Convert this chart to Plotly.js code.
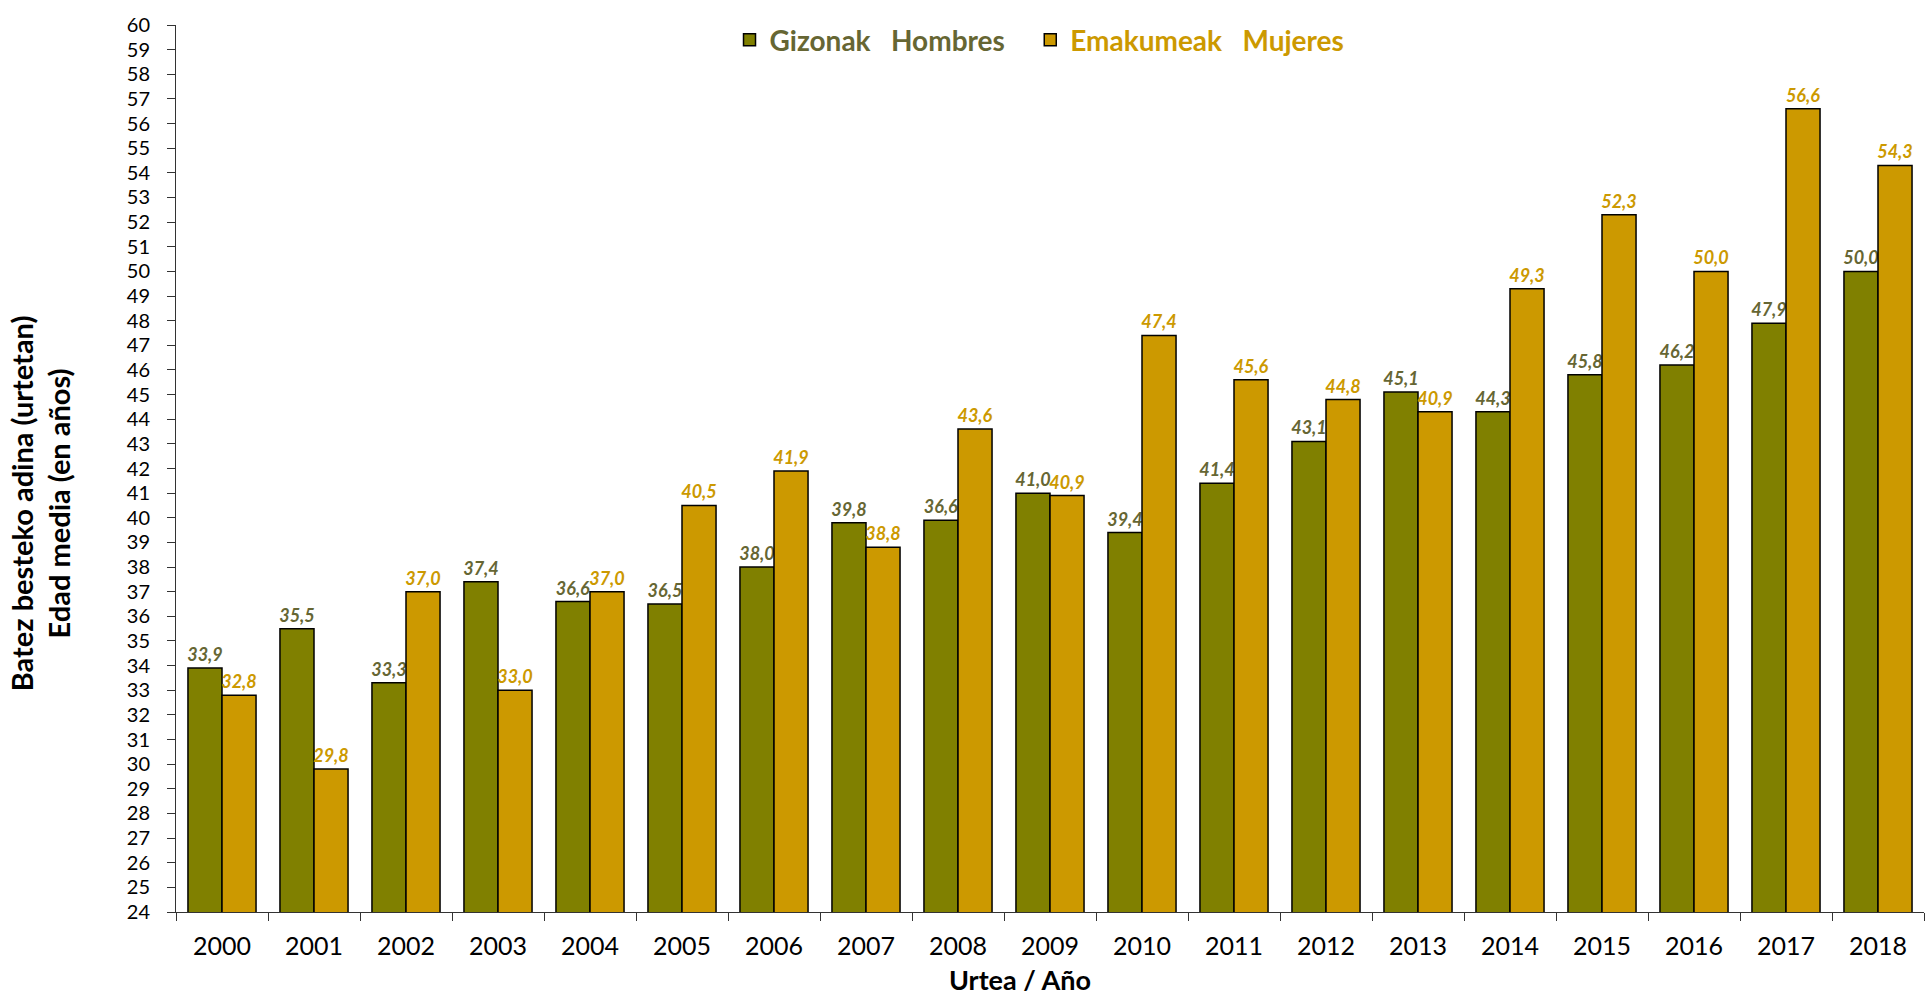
<!DOCTYPE html>
<html>
<head>
<meta charset="utf-8">
<script src="https://cdn.plot.ly/plotly-3.0.1.min.js"></script>
<style>html,body{margin:0;padding:0;background:#fff;}#chart{width:1926px;height:1000px;}</style>
</head>
<body>
<div id="chart"></div>
<script>
var years = ['2000','2001','2002','2003','2004','2005','2006','2007','2008','2009','2010','2011','2012','2013','2014','2015','2016','2017','2018'];
var menValues = [33.9, 35.5, 33.3, 37.4, 36.6, 36.5, 38.0, 39.8, 39.9, 41.0, 39.4, 41.4, 43.1, 45.1, 44.3, 45.8, 46.2, 47.9, 50.0];
var womenValues = [32.8, 29.8, 37.0, 33.0, 37.0, 40.5, 41.9, 38.8, 43.6, 40.9, 47.4, 45.6, 44.8, 44.3, 49.3, 52.3, 50.0, 56.6, 54.3];
var menLabels = ['33,9','35,5','33,3','37,4','36,6','36,5','38,0','39,8','36,6','41,0','39,4','41,4','43,1','45,1','44,3','45,8','46,2','47,9','50,0'];
var womenLabels = ['32,8','29,8','37,0','33,0','37,0','40,5','41,9','38,8','43,6','40,9','47,4','45,6','44,8','40,9','49,3','52,3','50,0','56,6','54,3'];
var menName = 'Gizonak\u00a0\u00a0\u00a0Hombres';
var womenName = 'Emakumeak\u00a0\u00a0\u00a0Mujeres';
var yTitle = 'Batez besteko adina (urtetan)<br>Edad media (en años)';
var xTitle = 'Urtea / Año';

var FONT = 'Lato, "Open Sans", sans-serif';
var MEN_BAR = '#808000', WOMEN_BAR = '#CC9900';
var MEN_TXT = '#666633', WOMEN_TXT = '#CC9900';

var traces = [
  {
    type: 'bar', x: years, y: menValues, text: menLabels,
    name: '<span style="color:' + MEN_TXT + '">' + menName + '</span>\u00a0\u00a0\u00a0',
    marker: {color: MEN_BAR, line: {color: '#000', width: 1.5}},
    textposition: 'outside', cliponaxis: false, constraintext: 'none',
    textfont: {family: FONT, size: 18, color: MEN_TXT, weight: 'bold', style: 'italic'},
    hoverinfo: 'x+y'
  },
  {
    type: 'bar', x: years, y: womenValues, text: womenLabels,
    name: '<span style="color:' + WOMEN_TXT + '">' + womenName + '</span>',
    marker: {color: WOMEN_BAR, line: {color: '#000', width: 1.5}},
    textposition: 'outside', cliponaxis: false, constraintext: 'none',
    textfont: {family: FONT, size: 18, color: WOMEN_TXT, weight: 'bold', style: 'italic'},
    hoverinfo: 'x+y'
  }
];

var layout = {
  width: 1926, height: 1000,
  paper_bgcolor: '#fff', plot_bgcolor: '#fff',
  font: {family: FONT, color: '#000'},
  margin: {l: 176, r: 2, t: 25, b: 88, pad: 0},
  barmode: 'group', bargap: 0.26, bargroupgap: 0,
  showlegend: true,
  legend: {
    orientation: 'h', x: 0.494, xanchor: 'center', y: 0.983, yanchor: 'middle',
    bgcolor: 'rgba(0,0,0,0)',
    font: {family: FONT, size: 28, weight: 'bold'},
    itemwidth: 30
  },
  xaxis: {
    type: 'category',
    showline: true, linecolor: '#333', linewidth: 1,
    ticks: 'outside', tickson: 'boundaries', ticklen: 8, tickcolor: '#333', tickwidth: 1,
    tickfont: {family: FONT, size: 25, color: '#000'},
    ticklabelstandoff: 12,
    showgrid: false, zeroline: false
  },
  yaxis: {
    range: [24, 60], tickmode: 'linear', tick0: 24, dtick: 1,
    showline: true, linecolor: '#333', linewidth: 1,
    ticks: 'outside', ticklen: 8, tickcolor: '#333', tickwidth: 1,
    tickfont: {family: FONT, size: 20, color: '#000'},
    ticklabelstandoff: 13,
    showgrid: false, zeroline: false
  },
  annotations: [
    {
      text: yTitle, xref: 'paper', yref: 'paper', x: -0.0778, y: 0.4608,
      xanchor: 'center', yanchor: 'middle', textangle: -90, showarrow: false,
      font: {family: FONT, size: 29, weight: 'bold', color: '#000'}
    },
    {
      text: xTitle, xref: 'paper', yref: 'paper', x: 0.4828, y: -0.0975,
      xanchor: 'center', yanchor: 'bottom', showarrow: false,
      font: {family: FONT, size: 27, weight: 'bold', color: '#000'}
    }
  ]
};

Plotly.newPlot('chart', traces, layout, {displayModeBar: false});
</script>
</body>
</html>
